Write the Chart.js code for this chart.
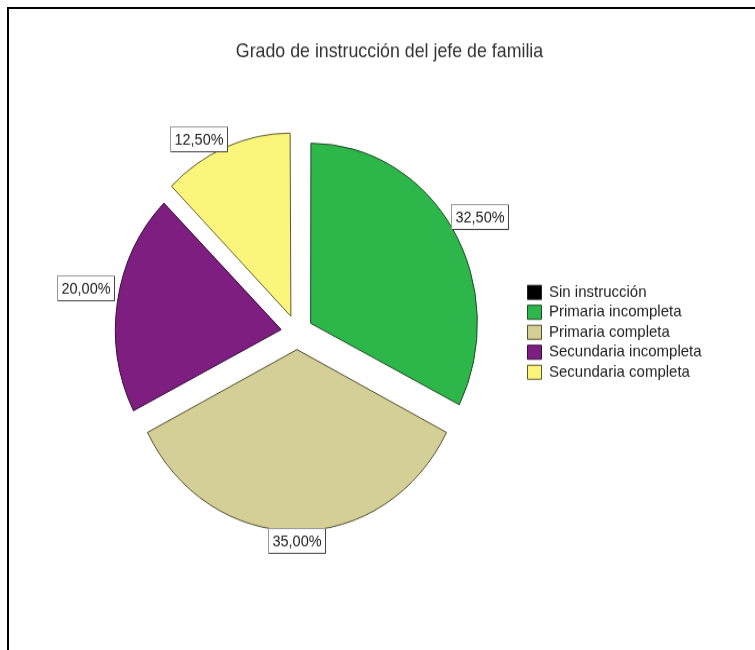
<!DOCTYPE html>
<html>
<head>
<meta charset="utf-8">
<script src="https://cdn.jsdelivr.net/npm/chart.js@4.4.1/dist/chart.umd.min.js"></script>
<style>
  html, body { margin: 0; padding: 0; background: #fff; }
  #wrap { position: relative; width: 755px; height: 650px; overflow: hidden; }
  #frame { position: absolute; left: 7px; top: 7px; width: 800px; height: 700px;
           border-left: 2px solid #000; border-top: 2px solid #000; }
  #pieChart { position: absolute; left: 0; top: 0; }
</style>
</head>
<body>
<div id="wrap">
  <div id="frame"></div>
  <!-- drawn at 602px tall and stretched to 650, like the SPSS export -->
  <canvas id="pieChart" width="755" height="602" style="width:755px;height:650px"></canvas>
</div>
<script>
// data
const categories = ['Sin instrucción', 'Primaria incompleta', 'Primaria completa', 'Secundaria incompleta', 'Secundaria completa'];
const percentages = [0, 32.5, 35, 20, 12.5];
const sliceColors = ['#000000', '#2db649', '#d4ce97', '#7e1e80', '#fbf57c'];
const sliceBorders = ['#222222', '#1f4a22', '#55512e', '#3a0c3b', '#5e5a2a'];
const chartTitle = 'Grado de instrucción del jefe de familia';

const fontFamily = '"Liberation Sans", Arial, sans-serif';

// white boxes with the percentage, sitting on the edge of each slice
const valueBoxes = {
    id: 'valueBoxes',
    afterDatasetsDraw(chart) {
        const ctx = chart.ctx;
        const meta = chart.getDatasetMeta(0);
        ctx.save();
        ctx.font = '14.5px ' + fontFamily;
        ctx.textAlign = 'center';
        ctx.textBaseline = 'middle';
        meta.data.forEach((arc, i) => {
            const v = percentages[i];
            if (!v) return;
            const p = arc.getProps(['x', 'y', 'startAngle', 'endAngle', 'outerRadius']);
            const a = (p.startAngle + p.endAngle) / 2;
            const r = p.outerRadius + arc.options.offset / 4;
            const dx = Math.cos(a), dy = Math.sin(a);
            const px = p.x + dx * r, py = p.y + dy * r;
            const w = 58, h = 24;
            let left = Math.abs(dx) < 0.3 ? px - w / 2 : (dx > 0 ? px : px - w);
            if (dx < -0.9) left -= 3;   // side label sits a little off the arc
            left = Math.round(left);
            const top = Math.round(dy > 0.5 ? py : py - h);
            ctx.fillStyle = '#fff';
            ctx.fillRect(left, top, w, h);
            ctx.lineWidth = 1;
            ctx.strokeStyle = '#9a9a9a';
            ctx.strokeRect(left + 0.5, top + 0.5, w - 1, h - 1);
            ctx.strokeStyle = '#444';
            ctx.beginPath();
            ctx.moveTo(left + 1, top + h - 0.5);
            ctx.lineTo(left + w - 0.5, top + h - 0.5);
            ctx.lineTo(left + w - 0.5, top + 1);
            ctx.stroke();
            ctx.fillStyle = '#222';
            ctx.fillText(v.toFixed(2).replace('.', ',') + '%', left + w / 2, top + h / 2 + 1);
        });
        ctx.restore();
    }
};

new Chart(document.getElementById('pieChart'), {
    type: 'pie',
    data: {
        labels: categories,
        datasets: [{
            data: percentages,
            backgroundColor: sliceColors,
            borderColor: sliceBorders,
            borderWidth: 1,
            offset: 64,          // chart.js moves slices by offset/4
            radius: 165
        }]
    },
    options: {
        responsive: false,
        devicePixelRatio: 1,
        animation: false,
        layout: { padding: { left: 70, right: 46, top: 0, bottom: 54.4 } },
        plugins: {
            title: {
                display: true,
                text: chartTitle,
                color: '#333',
                font: { family: fontFamily, size: 17.8, weight: 'normal' },
                padding: { top: 37.5, bottom: 9 }
            },
            legend: {
                position: 'right',
                align: 'center',
                fullSize: false,
                maxWidth: 185,
                labels: {
                    boxWidth: 14,
                    boxHeight: 13,
                    padding: 3.5,
                    color: '#222',
                    font: { family: fontFamily, size: 15 }
                }
            },
            tooltip: { enabled: false }
        }
    },
    plugins: [valueBoxes]
});
</script>
</body>
</html>
